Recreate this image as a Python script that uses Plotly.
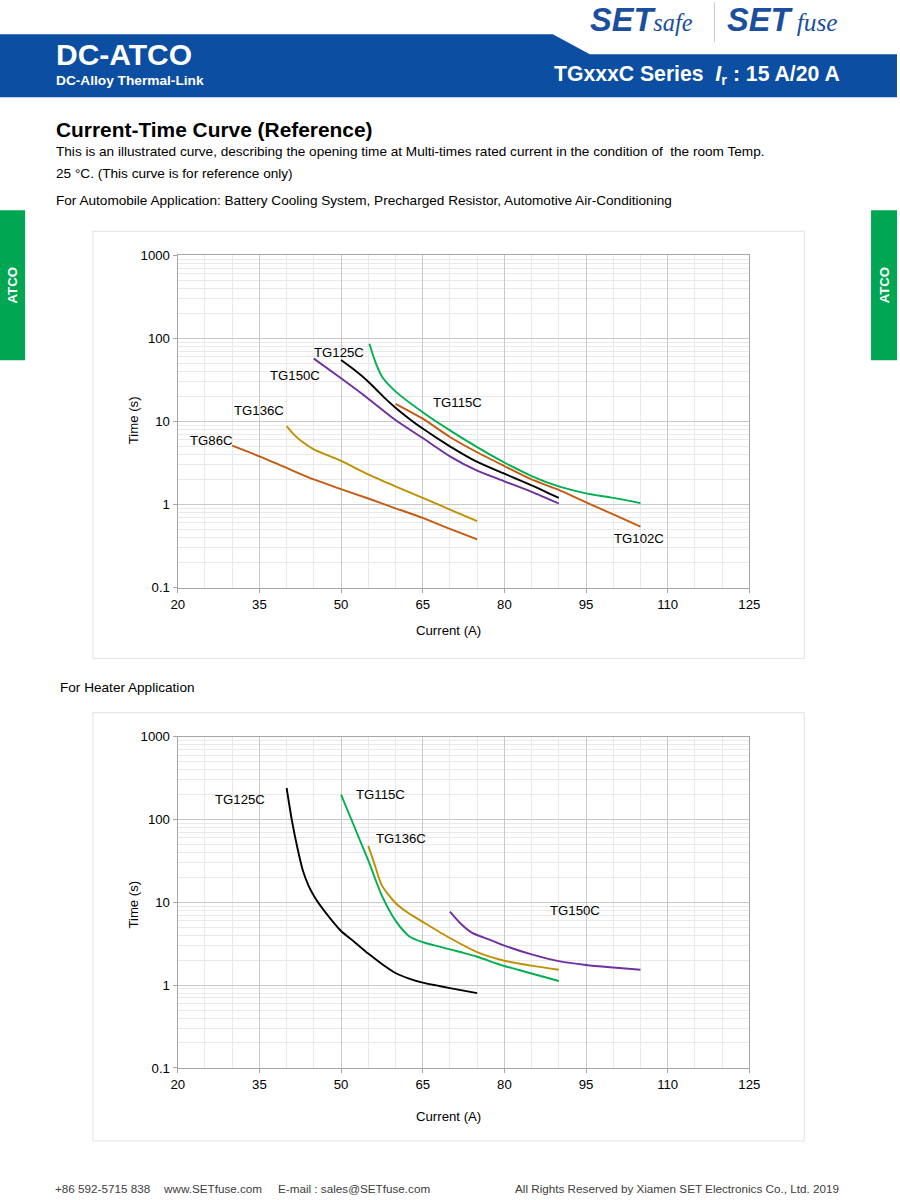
import math
import plotly.graph_objects as go

# ---------------- data ----------------
x_ticks = [20, 35, 50, 65, 80, 95, 110, 125]
x_minor = [25, 30, 40, 45, 55, 60, 70, 75, 85, 90, 100, 105, 115, 120]
y_ticks = [0.1, 1, 10, 100, 1000]
y_tick_labels = ["0.1", "1", "10", "100", "1000"]

# Automobile application (top chart)
auto_tg86c_x = [30, 35, 40, 45, 50, 55, 60, 65, 70, 75]
auto_tg86c_t = [5.1, 3.8, 2.75, 2.0, 1.53, 1.18, 0.9, 0.69, 0.51, 0.38]
auto_tg136c_x = [40, 41.5, 43, 45, 50, 55, 60, 65, 70, 75]
auto_tg136c_t = [8.8, 6.8, 5.6, 4.6, 3.35, 2.3, 1.65, 1.2, 0.87, 0.63]
auto_tg150c_x = [45, 50, 55, 60, 65, 70, 75, 80, 85, 90]
auto_tg150c_t = [57, 33, 18.8, 10.4, 6.3, 3.8, 2.55, 1.9, 1.42, 1.03]
auto_tg125c_x = [50, 52, 54, 56, 58, 60, 62.5, 65, 70, 75, 80, 85, 90]
auto_tg125c_t = [55, 44, 34.5, 26, 19.2, 14.6, 10.8, 8.2, 5.0, 3.25, 2.35, 1.7, 1.2]
auto_tg115c_x = [55.2, 56.4, 57.6, 60, 65, 70, 75, 80, 85, 90, 95, 100, 105]
auto_tg115c_t = [86, 50, 34, 23, 12.9, 7.8, 4.9, 3.2, 2.2, 1.65, 1.36, 1.2, 1.04]
auto_tg102c_x = [60, 65, 70, 75, 80, 85, 90, 95, 100, 105]
auto_tg102c_t = [16.3, 10.8, 6.5, 4.25, 2.9, 2.0, 1.5, 1.06, 0.76, 0.54]

# Heater application (bottom chart)
heat_tg125c_x = [40, 41, 42, 43, 44, 45, 46, 48, 50, 52.5, 55, 57.5, 60, 62.5, 65, 70, 75]
heat_tg125c_t = [240, 95, 45, 24, 16, 12, 9.5, 6.4, 4.5, 3.3, 2.4, 1.8, 1.4, 1.2, 1.07, 0.92, 0.8]
heat_tg115c_x = [50, 52.5, 55, 57.5, 60, 62.5, 65, 70, 72.5, 75, 80, 85, 90]
heat_tg115c_t = [200, 80, 32, 12, 6, 3.9, 3.3, 2.7, 2.45, 2.2, 1.7, 1.38, 1.12]
heat_tg136c_x = [55, 56, 57.5, 60, 62.5, 65, 70, 75, 80, 85, 90]
heat_tg136c_t = [48, 31, 16, 9.8, 7.3, 5.8, 3.7, 2.5, 1.97, 1.72, 1.53]
heat_tg150c_x = [70, 72, 74, 77.5, 80, 85, 90, 95, 100, 105]
heat_tg150c_t = [7.7, 5.5, 4.3, 3.5, 3.0, 2.35, 1.95, 1.75, 1.63, 1.53]

# ---------------- layout helpers ----------------
# The captured page shows the body's 8px margin and is fitted into the
# 900x1200 picture; page coordinates below are corrected for that.
SX, SY = 900 / 916, 1200 / 1216
M = 8
W, H = 908, 1208
FONT = "Liberation Sans"
BLUE = "#0B4EA2"
GREEN = "#00A651"
C_ORANGE = "#C55A11"
C_GOLD = "#BF9000"
C_PURPLE = "#7030A0"
C_BLACK = "#000000"
C_GREEN = "#00B050"


def px(x):
    return (x / SX - M) / W


def py(y):
    return 1 - (y / SY - M) / H


def fs(s):
    return round(s / SX, 1)


fig = go.Figure()

top_series = [
    (auto_tg86c_x, auto_tg86c_t, C_ORANGE, "TG86C"),
    (auto_tg136c_x, auto_tg136c_t, C_GOLD, "TG136C"),
    (auto_tg150c_x, auto_tg150c_t, C_PURPLE, "TG150C"),
    (auto_tg125c_x, auto_tg125c_t, C_BLACK, "TG125C"),
    (auto_tg115c_x, auto_tg115c_t, C_GREEN, "TG115C"),
    (auto_tg102c_x, auto_tg102c_t, C_ORANGE, "TG102C"),
]
bottom_series = [
    (heat_tg125c_x, heat_tg125c_t, C_BLACK, "TG125C"),
    (heat_tg115c_x, heat_tg115c_t, C_GREEN, "TG115C"),
    (heat_tg136c_x, heat_tg136c_t, C_GOLD, "TG136C"),
    (heat_tg150c_x, heat_tg150c_t, C_PURPLE, "TG150C"),
]

for xs, ts, col, name in top_series:
    fig.add_trace(go.Scatter(x=xs, y=ts, mode="lines", name=name, xaxis="x", yaxis="y",
                             line=dict(color=col, width=1.9, shape="spline", smoothing=0.7),
                             showlegend=False, hoverinfo="skip"))
for xs, ts, col, name in bottom_series:
    fig.add_trace(go.Scatter(x=xs, y=ts, mode="lines", name=name, xaxis="x2", yaxis="y2",
                             line=dict(color=col, width=1.9, shape="spline", smoothing=0.7),
                             showlegend=False, hoverinfo="skip"))

y_minor = [m * d for d in (0.1, 1, 10, 100) for m in range(2, 10)]

xax = dict(range=[20, 125], tickvals=x_ticks, ticktext=[str(v) for v in x_ticks],
           showgrid=True, gridcolor="#C9C9C9", gridwidth=1,
           minor=dict(tickvals=x_minor, showgrid=True, gridcolor="#E9E9E9", gridwidth=1, ticks=""),
           showline=True, linecolor="#A6A6A6", linewidth=1.3, mirror=True,
           ticks="outside", ticklen=4, tickcolor="#A6A6A6",
           tickfont=dict(family=FONT, size=fs(13), color="#000"), zeroline=False, fixedrange=True)
yax = dict(type="log", range=[-1, 3], tickvals=y_ticks, ticktext=y_tick_labels,
           showgrid=True, gridcolor="#C9C9C9", gridwidth=1,
           minor=dict(tickvals=y_minor, showgrid=True, gridcolor="#E9E9E9", gridwidth=1, ticks=""),
           showline=True, linecolor="#A6A6A6", linewidth=1.3, mirror=True,
           ticks="outside", ticklen=4, tickcolor="#A6A6A6",
           tickfont=dict(family=FONT, size=fs(13), color="#000"), zeroline=False, fixedrange=True)

xdom = [px(179), px(752)]
fig.update_layout(
    width=W, height=H, margin=dict(l=0, r=0, t=0, b=0),
    paper_bgcolor="white", plot_bgcolor="white",
    font=dict(family=FONT, color="#000"),
    xaxis=dict(xax, domain=xdom, anchor="y"),
    yaxis=dict(yax, domain=[py(588), py(256)], anchor="x"),
    xaxis2=dict(xax, domain=xdom, anchor="y2"),
    yaxis2=dict(yax, domain=[py(1068), py(737)], anchor="x2"),
)

shapes = []
# header band
shapes.append(dict(type="path", xref="paper", yref="paper",
                   path=f"M {px(0)} {py(35)} L {px(555)} {py(35)} L {px(592)} {py(55)} L {px(900)} {py(55)} L {px(900)} {py(98)} L {px(0)} {py(98)} Z",
                   fillcolor=BLUE, line=dict(width=0)))
# logo divider
shapes.append(dict(type="line", xref="paper", yref="paper", x0=px(717), x1=px(717), y0=py(3), y1=py(43),
                   line=dict(color="#C5CCDA", width=1)))
# side tabs
shapes.append(dict(type="rect", xref="paper", yref="paper", x0=px(0), x1=px(26), y0=py(361), y1=py(211),
                   fillcolor=GREEN, line=dict(width=0)))
shapes.append(dict(type="rect", xref="paper", yref="paper", x0=px(874), x1=px(900), y0=py(361), y1=py(211),
                   fillcolor=GREEN, line=dict(width=0)))
# chart frames
for (y0, y1) in [(232, 659), (713, 1141)]:
    shapes.append(dict(type="rect", xref="paper", yref="paper", x0=px(94), x1=px(807), y0=py(y1), y1=py(y0),
                       line=dict(color="#E2E2E2", width=1), fillcolor="rgba(0,0,0,0)", layer="below"))
fig.update_layout(shapes=shapes)

ann = []


def text(x, y, s, size=13, color="#000", xanchor="left", bold=False, angle=0, family=FONT):
    ann.append(dict(xref="paper", yref="paper", x=px(x), y=py(y), text=(f"<b>{s}</b>" if bold else s),
                    showarrow=False, xanchor=xanchor, yanchor="middle", textangle=angle,
                    font=dict(family=family, size=fs(size), color=color)))


# header
text(55, 55, "DC-ATCO", size=29.5, color="white", bold=True)
text(55, 81, "DC-Alloy Thermal-Link", size=13.5, color="white", bold=True)
text(845, 76, "TGxxxC Series  <i>I</i><sub>r</sub> : 15 A/20 A", size=20.8, color="white", xanchor="right", bold=True)
logo_blue = "#1B4F9E"
text(590, 20, f"<b><i>SET</i></b><span style=\"font-family:'Liberation Serif';font-size:{fs(24)}px\"><i>safe</i></span>",
     size=32, color=logo_blue)
text(728, 20, f"<b><i>SET</i></b><span style=\"font-family:'Liberation Serif';font-size:{fs(25)}px\"><i> fuse</i></span>",
     size=32, color=logo_blue)
# side tabs
text(13, 286, "ATCO", size=13, color="white", xanchor="center", bold=True, angle=-90)
text(887, 286, "ATCO", size=13, color="white", xanchor="center", bold=True, angle=-90)
# title block
text(55, 130, "Current-Time Curve (Reference)", size=20.5, bold=True)
text(55, 152, "This is an illustrated curve, describing the opening time at Multi-times rated current in the condition of  the room Temp.", size=13.4)
text(55, 174, "25 °C. (This curve is for reference only)", size=13.4)
text(55, 201, "For Automobile Application: Battery Cooling System, Precharged Resistor, Automotive Air-Conditioning", size=13.4)
text(59, 688, "For Heater Application", size=13.4)
# axis titles
for yc in (421, 905):
    text(135, yc, "Time (s)", size=13, xanchor="center", angle=-90)
for yc in (631, 1117):
    text(450, yc, "Current (A)", size=13, xanchor="center")
# footer
fc = "#404040"
text(54, 1189, "+86 592-5715 838", size=11.5, color=fc)
text(162, 1189, "www.SETfuse.com", size=11.5, color=fc)
text(278, 1189, "E-mail : sales@SETfuse.com", size=11.5, color=fc)
text(844, 1189, "All Rights Reserved by Xiamen SET Electronics Co., Ltd. 2019", size=11.5, color=fc, xanchor="right")

# curve labels (data coordinates)
top_labels = [("TG125C", 49.7, 67.8), ("TG150C", 41.6, 35.8), ("TG136C", 35.0, 13.6),
              ("TG86C", 26.2, 5.9), ("TG115C", 71.3, 16.9), ("TG102C", 104.8, 0.39)]
bottom_labels = [("TG125C", 31.5, 174), ("TG115C", 57.2, 200), ("TG136C", 61.0, 59), ("TG150C", 92.9, 8.0)]
for s, x, y in top_labels:
    ann.append(dict(xref="x", yref="y", x=x, y=math.log10(y), text=s, showarrow=False,
                    font=dict(family=FONT, size=fs(13), color="#000")))
for s, x, y in bottom_labels:
    ann.append(dict(xref="x2", yref="y2", x=x, y=math.log10(y), text=s, showarrow=False,
                    font=dict(family=FONT, size=fs(13), color="#000")))

fig.update_layout(annotations=ann)
fig.write_html("out.html")
